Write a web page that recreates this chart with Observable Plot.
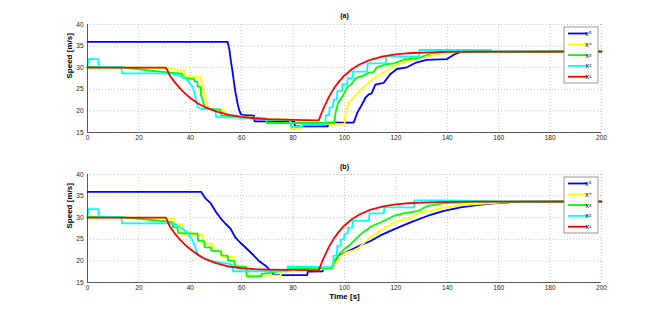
<!DOCTYPE html>
<html><head><meta charset="utf-8">
<script src="https://cdn.jsdelivr.net/npm/d3@7"></script>
<script src="https://cdn.jsdelivr.net/npm/@observablehq/plot@0.6"></script>
<style>
html,body{margin:0;padding:0;background:#fff;}
#chart{width:664px;height:318px;overflow:hidden;}
#chart svg{display:block;}
</style></head><body><div id="chart"></div>
<script>
// ---- data: [time s, speed m/s] ----
const seriesNames = ["x⁵","x⁴","x³","x²","x¹"];
const seriesColors = ["#0000ff","#ffff00","#00ff00","#00ffff","#ff0000"];
const xTicks = [0,20,40,60,80,100,120,140,160,180,200];
const yTicks = [15,20,25,30,35,40];

// panel (a)
const a_x5 = [[0,36],[54.5,36],[55.2,34.2],[55.8,31.5],[56.4,29.2],[57.0,26.6],[57.6,24.2],[58.3,22.0],[58.9,20.4],[59.6,19.3],[60.5,19.0],[64.8,18.9],[65.0,17.6],[80.5,17.5],[80.7,16.4],[93.5,16.4],[93.7,17.3],[103.6,17.3],[105.0,19.6],[106.9,21.6],[108.2,23.1],[109.4,23.8],[110.5,24.0],[112.0,26.1],[115.3,26.5],[117.8,28.5],[120.4,29.7],[124.3,30.1],[127.5,31.1],[132.0,31.8],[139.9,32.0],[142.5,33.0],[145.0,33.6],[200,33.7]];
const a_x4 = [[0,30.1],[30,29.9],[37.5,29.3],[37.7,28.0],[44.0,27.8],[44.2,27.2],[44.9,25.1],[45.8,23.2],[46.8,20.9],[48.1,20.3],[53.2,20.2],[53.4,18.9],[60,18.7],[67.5,18.3],[78.8,18.0],[79.0,15.8],[83.0,15.8],[83.2,16.9],[100.0,17.0],[100.4,19.6],[101.6,21.9],[102.9,22.7],[104.2,23.6],[105.5,24.4],[106.8,25.2],[108.8,26.2],[110.7,27.3],[113.9,28.5],[119.4,30.4],[124.5,31.6],[129.7,32.4],[134.3,32.8],[138.8,33.5],[142,33.7],[200,33.7]];
const a_x3 = [[0,30.2],[13,30.1],[30,29.0],[36.8,28.6],[37.0,27.7],[41.4,27.4],[41.6,26.9],[42.7,26.7],[42.9,25.7],[44.0,25.5],[44.2,23.6],[45.6,20.9],[46.8,20.5],[51.8,20.3],[52.0,18.95],[60,18.5],[69.5,18.2],[69.7,17.2],[96.0,17.2],[96.5,19.6],[97.5,21.9],[98.8,23.0],[100.0,24.2],[101.2,25.7],[102.6,26.1],[103.9,27.3],[105.2,27.8],[107.2,28.1],[109.4,28.8],[111.3,29.0],[112.5,30.0],[116.1,30.8],[119.4,31.0],[123.2,31.9],[129,32.3],[134.3,33.4],[137.5,33.7],[200,33.7]];
const a_x2 = [[0,30],[0.3,32],[4.2,32],[4.4,30.2],[13.2,30.2],[13.4,28.7],[30,28.7],[34,28.5],[38,27.7],[39,27.0],[41,25.5],[42.3,22.4],[42.9,20.9],[44.2,20.5],[49.8,20.3],[50.0,18.6],[60,18.4],[70,18.0],[79.0,17.8],[79.2,16.3],[83.5,16.3],[83.7,16.9],[92.5,16.9],[92.7,19.0],[94.0,19.0],[94.2,20.8],[95.5,20.8],[95.7,22.6],[97.0,22.6],[97.2,24.6],[99.0,24.6],[99.2,26.2],[101.0,26.2],[101.2,27.6],[103.0,27.6],[103.2,29.1],[108.8,29.1],[109.0,31.0],[116.0,31.0],[116.2,32.6],[129.0,32.6],[129.2,34.1],[157,34.1],[157.2,33.8],[200,33.8]];
const a_x1 = [[0,30],[30.5,30],[31,29.5],[32,28.2],[34,26.6],[36,25.2],[38,24.0],[40,23.0],[43,21.7],[46,20.8],[50,19.9],[55,19.1],[60,18.6],[65,18.3],[70,18.1],[80,17.9],[90,17.8],[91,19.4],[92,20.8],[94,23.3],[96,25.3],[98,26.9],[100,28.2],[103,29.7],[106,30.8],[110,31.8],[115,32.6],[120,33.1],[125,33.35],[130,33.5],[140,33.65],[150,33.7],[200,33.75]];

// panel (b)
const b_x5 = [[0,36],[44.2,36],[46,34.4],[48,33.3],[50,31.3],[51.9,29.8],[53.7,28.6],[55.6,27.5],[57.6,25.4],[59.5,24.2],[61.5,23.1],[64.1,21.6],[66.7,20.0],[69.3,18.9],[71.9,17.3],[72.5,16.7],[85.5,16.7],[85.7,17.5],[91.5,17.6],[91.7,18.4],[95,18.5],[96.5,20.2],[98.4,21.3],[100.4,22.0],[103,22.7],[106.2,23.6],[110.1,24.6],[114,25.9],[119.2,27.3],[125.7,28.9],[132.2,30.4],[138.7,31.6],[145.2,32.4],[151.6,32.9],[158.1,33.3],[162.6,33.5],[168.5,33.7],[200,33.7]];
const b_x4 = [[0,30.1],[30,29.9],[33.6,29.7],[33.8,28.5],[36.8,28.5],[37.0,26.0],[44.8,26.0],[45.0,24.0],[48.6,24.0],[48.8,22.4],[52.0,22.4],[52.2,20.9],[57.0,20.9],[57.2,18.6],[62.2,18.6],[62.4,16.6],[75.2,16.6],[75.4,17.5],[79.0,17.5],[79.2,18.1],[95.5,18.1],[96.5,19.6],[98.4,21.1],[100.4,21.9],[102.9,22.3],[105.5,23.0],[108.1,24.4],[110.1,25.5],[114,27.0],[119.2,28.9],[125.7,30.0],[129.6,31.2],[138.7,32.4],[145.2,32.9],[158.1,33.4],[165,33.7],[200,33.7]];
const b_x3 = [[0,30.2],[13,30.1],[30,29.2],[33.0,29.0],[33.2,27.8],[35.0,27.7],[35.2,26.5],[42.8,26.3],[43.0,24.7],[45.4,24.6],[45.6,23.2],[48.0,23.1],[48.2,22.4],[51.9,22.2],[52.1,21.3],[54.5,21.2],[54.7,20.1],[57.2,20.0],[57.4,18.8],[61.7,18.6],[61.9,16.4],[67.5,16.4],[67.7,17.0],[72,17.3],[79.3,18.2],[95.0,18.3],[96.5,20.4],[98.4,21.9],[100.4,23.0],[102.3,23.8],[104.9,25.4],[106.9,26.5],[109.4,27.5],[110.1,27.9],[114,28.9],[119.2,30.4],[122.8,31.0],[128.9,31.6],[132.2,32.7],[138.7,33.4],[145.2,33.5],[150,33.7],[200,33.7]];
const b_x2 = [[0,30],[0.3,32],[4.2,32],[4.4,30.2],[13.2,30.2],[13.4,28.7],[30.4,28.7],[34.2,28.5],[38.1,27.0],[40.7,25.0],[42.7,21.9],[43.3,21.2],[46.6,20.2],[50,19.8],[55,19.3],[56.4,19.0],[56.6,17.6],[77.8,17.6],[78.0,18.7],[95.5,18.5],[95.7,21.2],[97.0,21.2],[97.2,23.5],[98.4,23.5],[98.6,25.0],[99.8,25.0],[100.0,26.3],[101.2,26.3],[101.4,27.7],[103.0,27.7],[103.2,29.3],[109.5,29.3],[109.7,31.0],[115.3,31.0],[115.5,32.4],[127,32.4],[127.2,34.0],[140,34.0],[157,33.8],[200,33.8]];
const b_x1 = [[0,30],[30.5,30],[31,29.4],[32,28.0],[34,26.3],[36,24.9],[38,23.7],[40,22.7],[43,21.4],[46,20.4],[50,19.5],[55,18.7],[60,18.3],[65,18.1],[70,18.0],[80,17.9],[90,17.8],[91,19.4],[92,20.8],[94,23.3],[96,25.3],[98,26.9],[100,28.2],[103,29.7],[106,30.8],[110,31.8],[115,32.6],[120,33.1],[125,33.35],[130,33.5],[140,33.65],[150,33.7],[200,33.75]];

function rows(lists) {
  return lists.flatMap((pts, i) => pts.map(([t, v]) => ({t, v, s: seriesNames[i]})));
}

function legendMark(index, scales, values, dims) {
  const g = d3.create("svg:g");
  const w = 34, h = 56;
  const x0 = dims.width - dims.marginRight - 3 - w;
  const y0 = dims.marginTop + 3;
  g.append("rect").attr("x", x0).attr("y", y0).attr("width", w).attr("height", h)
    .attr("fill", "white").attr("stroke", "#808080").attr("stroke-width", 0.8);
  seriesNames.forEach((n, i) => {
    const y = y0 + 6.5 + i * 10.8;
    g.append("line").attr("x1", x0 + 4).attr("x2", x0 + 23).attr("y1", y).attr("y2", y)
      .attr("stroke", seriesColors[i]).attr("stroke-width", 1.8);
    g.append("text").attr("x", x0 + 24.5).attr("y", y).attr("dy", "0.35em")
      .attr("font-size", 7).attr("fill", "#000").text(n);
  });
  return g.node();
}

function panel(lists, title, height, marginBottom, xlabel, titleDy) {
  const data = rows(lists);
  const marks = [
    Plot.ruleX(xTicks, {stroke: "#c4c4c4", strokeDasharray: "1,2"}),
    Plot.ruleY(yTicks, {stroke: "#c4c4c4", strokeDasharray: "1,2"}),
    Plot.line(data, {x: "t", y: "v", z: "s", stroke: "s", strokeWidth: 1.8}),
    Plot.ruleX([0], {stroke: "#333", strokeWidth: 0.8}),
    Plot.ruleY([15], {stroke: "#333", strokeWidth: 0.8}),
    Plot.text([title], {text: d => d, frameAnchor: "top", dy: titleDy, lineAnchor: "middle", fontWeight: "bold", fontSize: 7, fill: "#000"}),
    Plot.text(["Speed [m/s]"], {text: d => d, frameAnchor: "left", rotate: -90, dx: -18, fontWeight: "bold", fontSize: 8, fill: "#000"}),
    legendMark
  ];
  if (xlabel) marks.push(Plot.text([xlabel], {text: d => d, frameAnchor: "bottom", dy: 14, lineAnchor: "middle", fontWeight: "bold", fontSize: 8, fill: "#000"}));
  return Plot.plot({
    width: 664, height,
    marginLeft: 87, marginRight: 63, marginTop: 24, marginBottom,
    style: {fontFamily: "'Liberation Sans', Arial, sans-serif", fontSize: "6.5px", background: "white", color: "#222"},
    x: {domain: [0, 200], ticks: xTicks, tickSize: 0, tickPadding: 3, label: null},
    y: {domain: [15, 40], ticks: yTicks, tickSize: 0, tickPadding: 4, label: null},
    color: {domain: seriesNames, range: seriesColors},
    marks
  });
}

const chart = document.getElementById("chart");
chart.appendChild(panel([a_x5, a_x4, a_x3, a_x2, a_x1], "(a)", 150, 18, null, -9));
chart.appendChild(panel([b_x5, b_x4, b_x3, b_x2, b_x1], "(b)", 168, 36, "Time [s]", -8));
</script></body></html>
